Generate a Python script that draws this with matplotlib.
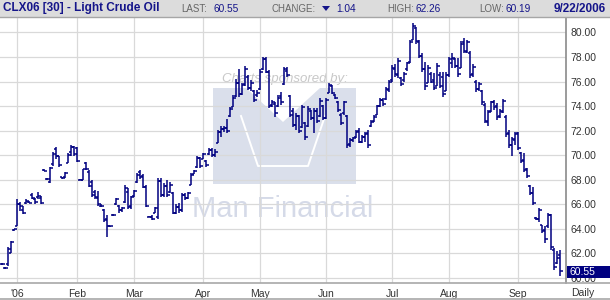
import pandas as pd
import matplotlib
matplotlib.use('Agg')
import matplotlib.pyplot as plt
from matplotlib.patches import Rectangle, Polygon
from matplotlib.lines import Line2D
from matplotlib.transforms import Bbox, TransformedBbox

# ---- chart data ----
title = 'CLX06 [30] - Light Crude Oil'
last_price = 60.55
change = 1.04
day_high = 62.26
day_low = 60.19
as_of = '9/22/2006'

holidays = ['2005-12-26', '2006-01-02', '2006-01-16', '2006-02-20', '2006-04-14',
            '2006-05-29', '2006-07-03', '2006-07-04', '2006-09-04']

opens = [61.15, 60.85, 61.10, 62.05, 63.90, 64.20, 66.05, 65.50, 66.10, 66.20,
         66.80, 66.40, 66.60, 66.50, 68.80, 68.10, 67.80, 69.30, 70.50, 69.90,
         68.20, 68.20, 69.40, 70.30, 70.70, 70.60, 68.00, 68.00, 69.40, 68.60,
         67.80, 67.00, 66.50, 65.90, 65.50, 64.80, 64.20, 65.10, 66.00, 65.90,
         65.50, 66.20, 67.00, 65.90, 66.70, 67.80, 68.60, 68.30, 67.40, 65.00,
         65.00, 65.30, 65.00, 67.90, 66.80, 67.50, 67.00, 66.90, 65.30, 65.80,
         65.50, 66.80, 66.50, 67.60, 68.50, 69.00, 69.80, 69.70, 69.50, 70.10,
         70.40, 70.00, 71.00, 71.90, 72.10, 72.20, 73.20, 73.90, 74.80, 75.90,
         75.00, 75.80, 76.40, 75.50, 75.20, 74.90, 75.40, 77.00, 77.80, 76.80,
         74.10, 74.20, 74.00, 74.80, 75.80, 76.90, 74.80, 73.60, 72.50, 73.20,
         72.30, 72.60, 72.40, 73.60, 73.00, 73.60, 73.20, 74.00, 73.00, 75.10,
         75.60, 74.90, 74.30, 73.30, 73.40, 73.20, 70.90, 71.20, 71.50, 72.00,
         71.10, 71.50, 71.80, 72.40, 72.80, 73.30, 74.00, 74.50, 74.60, 75.30,
         76.10, 77.00, 76.50, 76.30, 76.10, 77.00, 77.60, 79.40, 80.40, 79.20,
         78.10, 77.00, 75.90, 76.60, 76.10, 75.60, 76.50, 76.40, 75.20, 76.50,
         77.50, 77.80, 77.30, 77.10, 79.20, 78.40, 78.30, 76.60, 76.00, 75.40,
         75.20, 74.10, 72.70, 73.60, 74.30, 74.00, 73.20, 73.50, 73.10, 71.80,
         70.80, 71.20, 71.80, 70.20, 69.60, 68.90, 67.50, 66.90, 64.90, 64.80,
         64.30, 63.90, 64.20, 65.10, 62.30, 61.20, 61.90]

highs = [61.20, 60.90, 62.50, 63.00, 64.00, 66.40, 66.15, 65.90, 66.45, 66.25,
         66.90, 66.50, 67.00, 66.70, 68.85, 68.15, 69.00, 70.25, 70.70, 69.97,
         68.20, 68.60, 70.15, 70.80, 70.78, 70.70, 68.05, 68.90, 69.45, 68.76,
         67.95, 67.20, 67.10, 66.05, 65.65, 65.10, 64.25, 65.20, 66.50, 65.95,
         65.80, 67.58, 67.30, 66.70, 67.20, 68.53, 68.80, 68.50, 67.58, 65.05,
         65.10, 65.76, 68.12, 68.12, 67.70, 67.99, 67.80, 67.04, 66.00, 66.14,
         66.96, 66.96, 67.04, 68.58, 68.80, 69.94, 69.89, 70.21, 69.60, 70.57,
         70.57, 70.49, 72.06, 72.40, 72.39, 72.93, 73.90, 74.90, 76.19, 77.00,
         75.90, 77.30, 76.54, 76.13, 75.32, 75.32, 77.00, 78.00, 78.00, 76.95,
         74.50, 74.37, 74.90, 75.18, 77.20, 77.20, 74.90, 73.83, 73.42, 73.28,
         74.10, 72.74, 74.00, 73.70, 73.83, 73.83, 74.64, 74.10, 74.64, 75.86,
         75.72, 75.00, 74.42, 73.42, 74.42, 73.28, 71.38, 71.52, 72.06, 72.20,
         71.65, 71.92, 72.06, 72.87, 73.28, 74.10, 74.70, 74.70, 75.59, 76.13,
         77.35, 77.40, 77.95, 76.40, 76.80, 77.63, 79.39, 80.75, 80.48, 79.39,
         78.30, 77.63, 77.36, 76.80, 76.68, 77.50, 76.80, 76.80, 76.80, 78.00,
         78.30, 77.90, 77.90, 79.34, 79.53, 79.40, 78.52, 77.40, 76.13, 76.00,
         75.32, 74.23, 73.69, 74.45, 74.50, 74.23, 73.80, 74.56, 73.28, 72.06,
         71.52, 71.93, 71.93, 70.30, 70.16, 68.94, 67.58, 67.45, 65.00, 65.68,
         64.33, 64.20, 65.33, 65.20, 62.42, 62.20, 62.26]

lows = [61.05, 60.75, 61.00, 62.00, 63.85, 64.20, 65.45, 65.20, 66.00, 66.10,
        66.40, 66.00, 66.45, 66.05, 68.70, 68.00, 67.70, 69.15, 69.70, 69.08,
        68.10, 68.15, 69.35, 69.97, 69.90, 69.45, 67.95, 68.00, 68.80, 67.40,
        66.60, 66.46, 65.90, 65.80, 64.57, 63.30, 64.15, 65.05, 65.95, 65.27,
        65.40, 66.09, 65.60, 65.60, 66.60, 67.77, 68.04, 67.31, 65.80, 64.95,
        64.75, 65.27, 64.78, 66.63, 66.63, 66.63, 66.90, 65.19, 65.19, 65.27,
        65.41, 66.36, 66.41, 67.58, 68.48, 68.94, 68.94, 69.67, 69.07, 70.02,
        69.89, 69.89, 70.97, 71.52, 71.93, 71.79, 73.15, 73.90, 74.72, 74.72,
        74.90, 75.60, 75.32, 75.27, 74.37, 74.78, 75.32, 76.95, 76.68, 73.83,
        73.96, 73.15, 73.90, 74.10, 75.73, 76.35, 73.15, 72.33, 72.06, 71.79,
        72.20, 71.25, 72.33, 72.88, 71.79, 72.60, 73.15, 72.88, 72.93, 75.05,
        74.97, 74.60, 73.55, 72.47, 73.28, 70.57, 70.70, 71.11, 71.38, 70.97,
        70.97, 71.11, 70.62, 72.33, 72.74, 73.28, 73.96, 74.00, 74.50, 75.18,
        76.00, 76.40, 76.32, 75.60, 76.00, 76.90, 77.50, 79.39, 79.10, 77.90,
        76.80, 75.32, 75.85, 75.86, 75.32, 75.60, 75.45, 74.78, 75.20, 76.40,
        77.10, 77.10, 76.40, 77.08, 78.30, 78.30, 76.27, 76.40, 75.18, 75.20,
        74.10, 72.60, 72.39, 73.55, 73.70, 72.88, 73.00, 73.42, 71.52, 70.57,
        69.90, 70.84, 70.43, 69.35, 68.67, 68.13, 66.77, 65.96, 64.73, 64.60,
        63.65, 62.83, 64.05, 62.29, 60.66, 61.10, 60.19]

closes = [61.10, 60.80, 62.40, 62.90, 63.95, 66.00, 65.90, 65.30, 66.30, 66.10,
          66.50, 66.15, 66.70, 66.10, 68.75, 68.05, 68.95, 70.10, 69.90, 69.20,
          68.15, 68.55, 70.00, 70.70, 70.10, 69.50, 68.00, 68.85, 68.90, 67.50,
          66.80, 66.60, 66.00, 65.85, 64.70, 64.20, 64.20, 65.15, 66.40, 65.50,
          65.70, 67.30, 65.80, 66.60, 67.10, 68.40, 68.20, 67.40, 65.90, 65.00,
          64.80, 65.70, 67.90, 66.80, 67.50, 66.80, 67.60, 65.30, 65.80, 65.50,
          66.80, 66.50, 66.90, 68.40, 68.70, 69.80, 69.10, 70.10, 69.20, 70.40,
          70.00, 70.30, 71.90, 72.10, 72.20, 72.00, 73.80, 74.70, 75.90, 75.00,
          75.70, 77.00, 75.50, 75.90, 74.50, 75.10, 76.80, 77.80, 76.80, 74.00,
          74.30, 73.40, 74.70, 74.30, 77.00, 76.50, 73.30, 72.50, 73.20, 72.00,
          73.90, 71.50, 73.80, 73.00, 73.60, 72.80, 74.40, 73.00, 74.50, 75.70,
          75.10, 74.70, 73.70, 72.60, 74.30, 70.80, 71.20, 71.40, 71.90, 71.10,
          71.50, 71.70, 70.80, 72.70, 73.10, 74.00, 74.50, 74.20, 75.40, 76.00,
          77.10, 76.60, 77.70, 75.80, 76.60, 77.50, 79.20, 80.50, 79.30, 78.10,
          77.00, 75.60, 77.10, 76.00, 75.50, 77.30, 75.60, 75.00, 76.50, 77.80,
          77.90, 77.30, 76.60, 79.10, 78.50, 79.20, 76.50, 77.20, 75.40, 75.80,
          74.30, 72.80, 73.50, 74.30, 73.90, 73.10, 73.60, 74.40, 71.70, 70.80,
          71.30, 71.70, 70.60, 69.50, 68.80, 68.30, 66.90, 66.10, 64.80, 65.50,
          63.80, 63.20, 65.10, 62.50, 60.90, 61.59, 60.55]

ytick_values = [60, 62, 64, 66, 68, 70, 72, 74, 76, 78, 80]
month_labels = ["'06", 'Feb', 'Mar', 'Apr', 'May', 'Jun', 'Jul', 'Aug', 'Sep']

# trading days (exchange holidays removed)
dates = pd.bdate_range('2005-12-23', '2006-09-22')
dates = dates[~dates.isin(pd.to_datetime(holidays))]
x = list(range(len(dates)))

# first trading day of each month from January on
month_idx = []
for i, d in enumerate(dates):
    if d.year == 2006 and (i == 0 or d.month != dates[i - 1].month):
        month_idx.append(i)

W, H = 610, 300
navy = '#000080'
grid_c = '#d9d9d9'

fig = plt.figure(figsize=(W / 100, H / 100), dpi=100)
plt.rcParams['font.family'] = ['Liberation Sans', 'DejaVu Sans']


def fx(px):
    return px / W


def fy(py):
    return 1 - py / H


ax = fig.add_axes([0, fy(283), fx(565.7), fy(18) - fy(283)])
ax.set_xlim(-0.77, len(x) + 0.8)
ax.set_ylim(59.59, 81.18)

# sponsor watermark (behind the grid)
m_shape = [(213, 88), (246, 88), (283, 122), (320, 88), (356, 88), (356, 184), (213, 184)]
ax.add_patch(Polygon([(fx(a), fy(b)) for a, b in m_shape], closed=True,
                     transform=fig.transFigure, facecolor='#dadfeb', edgecolor='none', zorder=0.1))
inner = [(241, 116), (258, 166), (308, 166), (325, 116)]
ax.add_line(Line2D([fx(a) for a, b in inner], [fy(b) for a, b in inner],
                   transform=fig.transFigure, color='white', lw=1.4, zorder=0.2))
ax.text(fx(285), fy(79), 'Charts sponsored by:', transform=fig.transFigure,
        ha='center', va='center', fontsize=9.5, style='italic', color='#c8c8c8', zorder=0.3)
ax.text(fx(283), fy(209), 'Man Financial', transform=fig.transFigure,
        ha='center', va='center', fontsize=21, color='#d5dae8', zorder=0.3,
        family=['Liberation Sans Narrow', 'Liberation Sans'])

ax.set_axisbelow(True)
ax.grid(True, color=grid_c, lw=0.9)

# OHLC bars
tick_w = 0.75
ax.vlines(x, lows, highs, color=navy, lw=1.1, zorder=3)
ax.hlines(opens, [i - tick_w for i in x], x, color=navy, lw=1.1, zorder=3)
ax.hlines(closes, x, [i + tick_w for i in x], color=navy, lw=1.1, zorder=3)

# axes / ticks
ax.yaxis.tick_right()
ax.set_yticks(ytick_values)
ax.set_yticklabels(['%.2f' % v for v in ytick_values])
ax.set_xticks(month_idx)
ax.set_xticklabels(month_labels)
ax.tick_params(length=0, labelsize=7.5, labelcolor='#333333')
ax.tick_params(axis='y', pad=3.2)
ax.tick_params(axis='x', pad=4.5)
for s in ['top', 'left', 'bottom']:
    ax.spines[s].set_visible(False)
ax.spines['right'].set_color('#8a8a8a')
ax.spines['right'].set_linewidth(1.2)

# the lowest price label peeks out below the last-price box only
low_label = ax.get_yticklabels()[0]
low_label.set_clip_on(True)
low_label.set_clip_box(TransformedBbox(Bbox([[fx(566), fy(283)], [1, fy(277.6)]]), fig.transFigure))

fig.text(fx(571), fy(293.5), 'Daily', fontsize=7.5, color='#333333', va='center', ha='left')

# frame lines
fig.add_artist(Line2D([0, 1], [fy(283.3), fy(283.3)], color='#a8a8a8', lw=1.2))
fig.add_artist(Line2D([0, 1], [fy(299.3), fy(299.3)], color='#a8a8a8', lw=1.2))

# last price box
fig.patches.append(Rectangle((fx(566.5), fy(277.5)), fx(610) - fx(566.5), fy(266) - fy(277.5),
                             transform=fig.transFigure, facecolor=navy, edgecolor='none', zorder=5))
fig.text(fx(569), fy(271.8), '%.2f' % last_price, color='white', fontsize=7.5,
         va='center', ha='left', zorder=6)

# header bar
fig.patches.append(Rectangle((0, fy(17)), 1, fy(0) - fy(17), transform=fig.transFigure,
                             facecolor='#dcdcdc', edgecolor='none', zorder=1))
fig.add_artist(Line2D([0, 1], [fy(17), fy(17)], color='#a6a6a6', lw=1.0))
hy = fy(8.5)
fig.text(fx(3), hy, title, fontsize=8.5, fontweight='bold', color='#15158a', va='center')
fig.text(fx(181), hy, 'LAST:', fontsize=7, color='#666666', va='center')
fig.text(fx(213), hy, '%.2f' % last_price, fontsize=7.3, color='#15158a', va='center')
fig.text(fx(272), hy, 'CHANGE:', fontsize=7, color='#666666', va='center')
tri = [(322, 6), (330, 6), (326, 11)]
fig.patches.append(Polygon([(fx(a), fy(b)) for a, b in tri], closed=True,
                           transform=fig.transFigure, facecolor='#15158a', edgecolor='none', zorder=2))
fig.text(fx(336), hy, '%.2f' % change, fontsize=7.3, color='#15158a', va='center')
fig.text(fx(387), hy, 'HIGH:', fontsize=7, color='#666666', va='center')
fig.text(fx(416), hy, '%.2f' % day_high, fontsize=7.3, color='#15158a', va='center')
fig.text(fx(479), hy, 'LOW:', fontsize=7, color='#666666', va='center')
fig.text(fx(506), hy, '%.2f' % day_low, fontsize=7.3, color='#15158a', va='center')
fig.text(fx(606), hy, as_of, fontsize=8.5, fontweight='bold', color='#15158a',
         va='center', ha='right')

fig.savefig('out.png', dpi=100)
